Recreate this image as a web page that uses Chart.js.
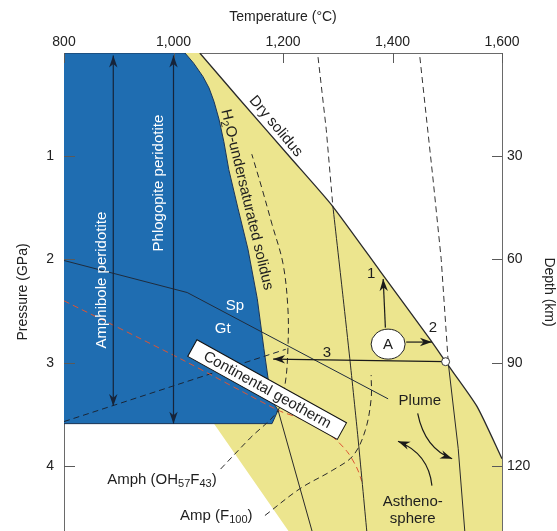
<!DOCTYPE html>
<html>
<head>
<meta charset="utf-8">
<script src="https://cdn.jsdelivr.net/npm/chart.js@4.4.1/dist/chart.umd.min.js"></script>
<style>
  html, body { margin: 0; padding: 0; background: #fff; }
  #wrap { width: 557px; height: 531px; }
</style>
</head>
<body>
<div id="wrap"><canvas id="c" width="557" height="531"></canvas></div>
<script>
// ---- axes -------------------------------------------------------------
const tempTicks = [800, 1000, 1200, 1400, 1600];
const tempLabels = ['800', '1,000', '1,200', '1,400', '1,600'];
const pressureTicks = [1, 2, 3, 4];
const depthTicks = [30, 60, 90, 120];
const KM_PER_GPA = 30;
const P_MAX = 4.63;

// ---- fields and curves, as [temperature °C, pressure GPa] ---------------
const hydrousSolidus = [
  [1021, 0], [1037, 0.10], [1054, 0.23], [1065, 0.34], [1074, 0.47],
  [1083, 0.64], [1092, 0.86], [1101, 1.13], [1118, 1.51], [1136, 1.90],
  [1153, 2.38], [1165, 2.86], [1178, 3.35], [1191, 3.46]
];
const hydrousPeridotiteField = [
  [800, 0], ...hydrousSolidus, [1180, 3.59], [800, 3.59]
];
const drySolidus = [
  [1048, 0], [1121, 0.45], [1213, 1.01], [1290, 1.48], [1377, 2.11],
  [1468, 2.77], [1497, 2.99], [1554, 3.42], [1600, 3.93]
];
const meltingField = [
  [1021, 0], ...drySolidus, [1600, P_MAX], [1210, P_MAX], [1074, 3.59],
  [1180, 3.59], ...hydrousSolidus.slice().reverse()
];
const adiabatLowAbove = [[1264, 0.04], [1279, 0.74], [1291, 1.48]];
const adiabatLowBelow = [[1291, 1.48], [1310, 2.38], [1322, 2.96], [1337, 3.73], [1353, P_MAX]];
const adiabatHighAbove = [[1450, 0.04], [1474, 1.22], [1489, 2.0], [1502, 3.01]];
const adiabatHighBelow = [[1502, 3.01], [1520, 3.83], [1532, P_MAX]];
const solidusBelowField = [[1191, 3.46], [1253, P_MAX]];
const spinelGarnet = [[800, 2.01], [1025, 2.32], [1392, 3.35]];
const continentalGeotherm = [
  [800, 2.40], [1012, 2.96], [1191, 3.46], [1231, 3.54], [1286, 3.70],
  [1317, 3.86], [1335, 4.02], [1344, 4.15]
];
const amphOH57F43 = [
  [1086, 4.03], [1140, 3.73], [1191, 3.46], [1204, 3.20], [1209, 2.86],
  [1209, 2.48], [1200, 2.04], [1180, 1.66], [1162, 1.32], [1143, 0.98]
];
const amphSubsolidus = [[800, 3.57], [1205, 2.87]];
const ampF100 = [
  [1167, 4.48], [1231, 4.22], [1291, 4.04], [1328, 3.90], [1350, 3.66],
  [1361, 3.35], [1361, 3.12]
];

// ---- arrows and markers ---------------------------------------------------
const amphiboleArrow = [[890, 0.025], [890, 3.42]];
const phlogopiteArrow = [[1000, 0.025], [1000, 3.59]];
const pathA = [1392, 2.82];
const path1 = [[1387, 2.66], [1383, 2.19]];
const path2 = [[1425, 2.80], [1472, 2.80]];
const path3 = [[1497, 2.99], [1182, 2.965]];
const plumeArrow = [[1446, 3.49], [1459, 3.83], [1509, 3.93]];
const asthenoArrow = [[1472, 4.19], [1466, 3.88], [1410, 3.76]];
const geothermTag = [1171, 3.26];

const SANS = '"Liberation Sans", Arial, Helvetica, sans-serif';
const INK = '#1e1e1e';

const labels = [
  { parts: [['Dry solidus']], at: [1187, 0.71], angle: 50 },
  { parts: [['H'], ['2', 1], ['O-undersaturated solidus']], at: [1134, 1.42], angle: 76.5 },
  { parts: [['Amphibole peridotite']], at: [869, 2.20], angle: -90, color: '#fff' },
  { parts: [['Phlogopite peridotite']], at: [974, 1.26], angle: -90, color: '#fff' },
  { parts: [['Sp']], at: [1112, 2.45], color: '#fff' },
  { parts: [['Gt']], at: [1090, 2.67], color: '#fff' },
  { parts: [['Plume']], at: [1450, 3.37] },
  { parts: [['Astheno-']], at: [1437, 4.345] },
  { parts: [['sphere']], at: [1437, 4.51] },
  { parts: [['Amph (OH'], ['57', 1], ['F'], ['43', 1], [')']], at: [879, 4.13], align: 'left' },
  { parts: [['Amp (F'], ['100', 1], [')']], at: [1012, 4.48], align: 'left' },
  { parts: [['1']], at: [1361, 2.14] },
  { parts: [['2']], at: [1474, 2.66] },
  { parts: [['3']], at: [1280, 2.90] }
];

function line(points, opts) {
  return Object.assign({
    data: points.map(([t, p]) => ({ x: t, y: p })),
    showLine: true, pointRadius: 0, pointHoverRadius: 0,
    borderWidth: 1, borderColor: '#2a2a2a', backgroundColor: 'transparent',
    fill: false, tension: 0, xAxisID: 'x', yAxisID: 'y', order: 5
  }, opts);
}
const dash = [6, 4];

const datasets = [
  line(meltingField, { fill: 'shape', backgroundColor: '#ece58e', borderWidth: 0, borderColor: 'transparent', order: 20 }),
  line(hydrousPeridotiteField, { fill: 'shape', backgroundColor: '#1f6db1', borderColor: '#1b3555', borderWidth: 1, order: 19 }),
  line(drySolidus, { borderColor: '#2a2a2a', borderWidth: 1.3, tension: 0.2, order: 6 }),
  line(adiabatLowAbove, { borderColor: '#333', borderDash: dash }),
  line(adiabatLowBelow, { borderColor: '#2a2a2a', tension: 0.2 }),
  line(adiabatHighAbove, { borderColor: '#333', borderDash: dash }),
  line(adiabatHighBelow, { borderColor: '#2a2a2a' }),
  line(solidusBelowField, { borderColor: '#2a2a2a' }),
  line(spinelGarnet, { borderColor: '#1f2c3d' }),
  line(continentalGeotherm, { borderColor: '#dd5433', borderDash: dash, tension: 0.3 }),
  line(amphOH57F43, { borderColor: '#2a2a2a', borderDash: dash, tension: 0.35 }),
  line(amphSubsolidus, { borderColor: '#1a2636', borderDash: dash }),
  line(ampF100, { borderColor: '#2a2a2a', borderDash: dash, tension: 0.35 })
];

function arrowHead(ctx, x, y, ang, len = 12, hw = 4.2) {
  ctx.save();
  ctx.translate(x, y);
  ctx.rotate(ang);
  ctx.beginPath();
  ctx.moveTo(0, 0);
  ctx.lineTo(-len, -hw);
  ctx.lineTo(-len * 0.7, 0);
  ctx.lineTo(-len, hw);
  ctx.closePath();
  ctx.fill();
  ctx.restore();
}

function richText(ctx, parts, x, y, angle, align, size, color) {
  const subSize = Math.round(size * 0.7);
  ctx.save();
  ctx.translate(x, y);
  ctx.rotate(angle * Math.PI / 180);
  ctx.fillStyle = color;
  ctx.textBaseline = 'middle';
  ctx.textAlign = 'left';
  let w = 0;
  parts.forEach(([t, sub]) => { ctx.font = (sub ? subSize : size) + 'px ' + SANS; w += ctx.measureText(t).width; });
  let cx = align === 'left' ? 0 : align === 'right' ? -w : -w / 2;
  parts.forEach(([t, sub]) => {
    ctx.font = (sub ? subSize : size) + 'px ' + SANS;
    ctx.fillText(t, cx, sub ? size * 0.3 : 0);
    cx += ctx.measureText(t).width;
  });
  ctx.restore();
}

const innerTicks = {
  id: 'innerTicks',
  afterDatasetsDraw(chart) {
    const { ctx, chartArea: a, scales } = chart;
    ctx.save();
    ctx.strokeStyle = '#5a5a5a';
    ctx.lineWidth = 1;
    ctx.beginPath();
    tempTicks.forEach(v => {
      const px = Math.round(scales.x.getPixelForValue(v)) + 0.5;
      ctx.moveTo(px, a.top); ctx.lineTo(px, a.top + 10);
    });
    pressureTicks.forEach(v => {
      const py = Math.round(scales.y.getPixelForValue(v)) + 0.5;
      ctx.moveTo(a.left, py); ctx.lineTo(a.left + 11, py);
    });
    depthTicks.forEach(v => {
      const py = Math.round(scales.y2.getPixelForValue(v)) + 0.5;
      ctx.moveTo(a.right, py); ctx.lineTo(a.right - 10, py);
    });
    ctx.stroke();
    ctx.restore();
  }
};

const annotations = {
  id: 'annotations',
  afterDatasetsDraw(chart) {
    const { ctx, scales } = chart;
    const X = t => scales.x.getPixelForValue(t);
    const Y = p => scales.y.getPixelForValue(p);
    const P = ([t, p]) => [X(t), Y(p)];

    ctx.save();
    ctx.lineCap = 'butt';

    // straight arrows
    const straight = (a, b, color, both) => {
      const [x1, y1] = P(a), [x2, y2] = P(b);
      const ang = Math.atan2(y2 - y1, x2 - x1);
      ctx.strokeStyle = color; ctx.fillStyle = color; ctx.lineWidth = 1.2;
      ctx.beginPath(); ctx.moveTo(x1, y1); ctx.lineTo(x2, y2); ctx.stroke();
      arrowHead(ctx, x2, y2, ang);
      if (both) arrowHead(ctx, x1, y1, ang + Math.PI);
    };
    straight(amphiboleArrow[0], amphiboleArrow[1], '#16243a', true);
    straight(phlogopiteArrow[0], phlogopiteArrow[1], '#16243a', true);
    straight(path1[0], path1[1], '#1a1a1a', false);
    straight(path2[0], path2[1], '#1a1a1a', false);
    straight(path3[0], path3[1], '#1a1a1a', false);

    // curved arrows
    const curved = (pts) => {
      const [a, c, b] = pts.map(P);
      ctx.strokeStyle = '#1a1a1a'; ctx.fillStyle = '#1a1a1a'; ctx.lineWidth = 1.2;
      ctx.beginPath(); ctx.moveTo(a[0], a[1]); ctx.quadraticCurveTo(c[0], c[1], b[0], b[1]); ctx.stroke();
      arrowHead(ctx, b[0], b[1], Math.atan2(b[1] - c[1], b[0] - c[0]));
    };
    curved(plumeArrow);
    curved(asthenoArrow);

    // start marker of path 3
    const [sx, sy] = P(path3[0]);
    ctx.beginPath(); ctx.arc(sx, sy, 4, 0, Math.PI * 2);
    ctx.fillStyle = '#fff'; ctx.fill();
    ctx.strokeStyle = '#333'; ctx.lineWidth = 1; ctx.stroke();

    // point A
    const [ax, ay] = P(pathA);
    ctx.beginPath(); ctx.ellipse(ax, ay, 17, 15, 0, 0, Math.PI * 2);
    ctx.fillStyle = '#fff'; ctx.fill();
    ctx.strokeStyle = '#222'; ctx.lineWidth = 1; ctx.stroke();
    richText(ctx, [['A']], ax, ay + 0.5, 0, 'center', 15, INK);

    // geotherm tag
    const [gx, gy] = P(geothermTag);
    ctx.save();
    ctx.translate(gx, gy);
    ctx.rotate(29 * Math.PI / 180);
    ctx.fillStyle = '#fff';
    ctx.fillRect(-85.5, -9.5, 171, 19);
    ctx.strokeStyle = '#111'; ctx.lineWidth = 1;
    ctx.strokeRect(-85.5, -9.5, 171, 19);
    ctx.restore();
    richText(ctx, [['Continental geotherm']], gx, gy + 0.5, 29, 'center', 15, INK);

    labels.forEach(l => {
      const [x, y] = P(l.at);
      richText(ctx, l.parts, x, y, l.angle || 0, l.align || 'center', 15, l.color || INK);
    });
    ctx.restore();
  }
};

const axisFont = { family: SANS, size: 14 };
const axisColor = '#222';

new Chart(document.getElementById('c'), {
  type: 'scatter',
  data: { datasets },
  plugins: [innerTicks, annotations],
  options: {
    responsive: false,
    animation: false,
    events: [],
    layout: { padding: 0 },
    plugins: { legend: { display: false }, tooltip: { enabled: false } },
    scales: {
      x: {
        type: 'linear', position: 'top', min: 800, max: 1600,
        afterBuildTicks: s => { s.ticks = tempTicks.map(v => ({ value: v })); },
        afterFit: s => { s.height = 53; s.paddingLeft = 0; s.paddingRight = 0; },
        ticks: { callback: v => tempLabels[tempTicks.indexOf(v)] ?? '', padding: 2, font: axisFont, color: axisColor, maxRotation: 0, autoSkip: false },
        grid: { drawOnChartArea: false, drawTicks: false },
        border: { display: true, color: '#6a6a6a', width: 1 },
        title: { display: true, text: 'Temperature (°C)', font: axisFont, color: axisColor, padding: { top: 9, bottom: 0 } }
      },
      y: {
        type: 'linear', position: 'left', reverse: true, min: 0, max: P_MAX,
        afterBuildTicks: s => { s.ticks = pressureTicks.map(v => ({ value: v })); },
        afterFit: s => { s.width = 64; s.paddingTop = 0; s.paddingBottom = 0; },
        ticks: { callback: v => String(v), padding: 10, font: axisFont, color: axisColor, autoSkip: false },
        grid: { drawOnChartArea: false, drawTicks: false },
        border: { display: true, color: '#6a6a6a', width: 1 },
        title: { display: true, text: 'Pressure (GPa)', font: axisFont, color: axisColor, padding: { top: 15, bottom: 0 } }
      },
      y2: {
        type: 'linear', position: 'right', reverse: true, min: 0, max: P_MAX * KM_PER_GPA,
        afterBuildTicks: s => { s.ticks = depthTicks.map(v => ({ value: v })); },
        afterFit: s => { s.width = 55; s.paddingTop = 0; s.paddingBottom = 0; },
        ticks: { callback: v => String(v), padding: 5, font: axisFont, color: axisColor, autoSkip: false },
        grid: { drawOnChartArea: false, drawTicks: false },
        border: { display: true, color: '#6a6a6a', width: 1 },
        title: { display: true, text: 'Depth (km)', font: axisFont, color: axisColor, padding: { top: 0, bottom: 0 } }
      }
    }
  }
});
</script>
</body>
</html>
